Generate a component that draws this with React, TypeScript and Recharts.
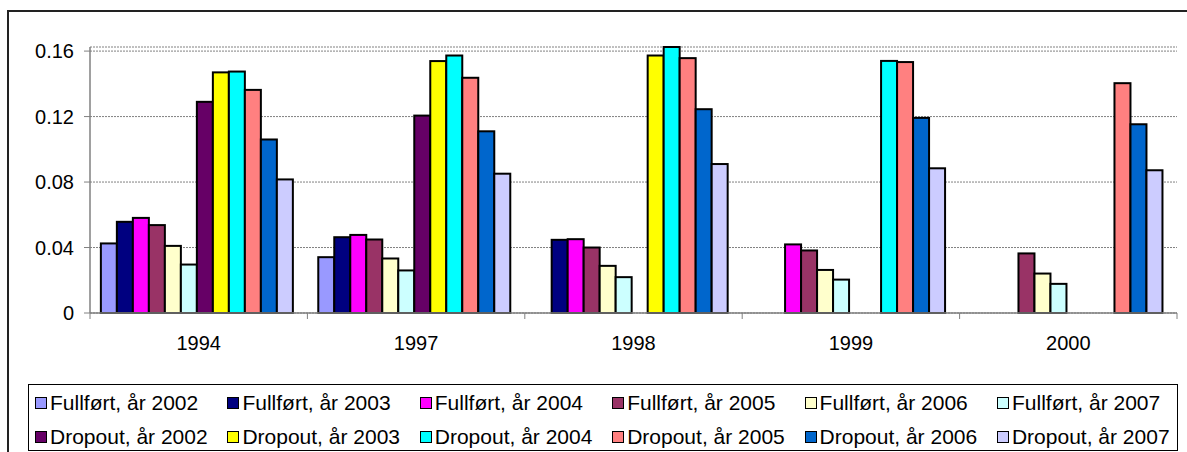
import React from 'react';
import { BarChart, Bar, XAxis, YAxis, CartesianGrid, Legend } from 'recharts';

const categories = ['1994', '1997', '1998', '1999', '2000'];

const seriesNames = [
  'Fullført, år 2002', 'Fullført, år 2003', 'Fullført, år 2004',
  'Fullført, år 2005', 'Fullført, år 2006', 'Fullført, år 2007',
  'Dropout, år 2002', 'Dropout, år 2003', 'Dropout, år 2004',
  'Dropout, år 2005', 'Dropout, år 2006', 'Dropout, år 2007',
];

const seriesColors = [
  '#9999FF', '#000080', '#FF00FF', '#993366', '#FFFFCC', '#CCFFFF',
  '#660066', '#FFFF00', '#00FFFF', '#FF8080', '#0066CC', '#CCCCFF',
];

const fullfort2002 = [0.0425, 0.0341, null, null, null];
const fullfort2003 = [0.0557, 0.0463, 0.0447, null, null];
const fullfort2004 = [0.0581, 0.0477, 0.0451, 0.0419, null];
const fullfort2005 = [0.0537, 0.0449, 0.040, 0.0382, 0.0364];
const fullfort2006 = [0.041, 0.0333, 0.0288, 0.0263, 0.0241];
const fullfort2007 = [0.0296, 0.026, 0.0219, 0.0204, 0.0178];
const dropout2002 = [0.129, 0.1206, null, null, null];
const dropout2003 = [0.147, 0.1539, 0.1573, null, null];
const dropout2004 = [0.1475, 0.1573, 0.1625, 0.154, null];
const dropout2005 = [0.1363, 0.1437, 0.1557, 0.1533, 0.1404];
const dropout2006 = [0.106, 0.111, 0.1245, 0.1192, 0.1153];
const dropout2007 = [0.0816, 0.0851, 0.091, 0.0884, 0.0872];

const seriesValues = [
  fullfort2002, fullfort2003, fullfort2004, fullfort2005, fullfort2006, fullfort2007,
  dropout2002, dropout2003, dropout2004, dropout2005, dropout2006, dropout2007,
];

const yTicks = [0, 0.04, 0.08, 0.12, 0.16];

const data = categories.map((c, i) => {
  const row: any = { year: c };
  seriesValues.forEach((vals, s) => {
    row['s' + s] = vals[i];
  });
  return row;
});

const FONT = '"Liberation Sans", Arial, sans-serif';
const AXIS_COLOR = '#808080';

const XTick = (props: any) => {
  const { x, y, payload, index, visibleTicksCount, width } = props;
  const count = visibleTicksCount || categories.length;
  const half = width / count / 2;
  const axisY = y - 23;
  return (
    <g>
      <line x1={x - half} x2={x - half} y1={axisY} y2={axisY + 6} stroke={AXIS_COLOR} strokeWidth={1} />
      {index === count - 1 && (
        <line x1={x + half} x2={x + half} y1={axisY} y2={axisY + 6} stroke={AXIS_COLOR} strokeWidth={1} />
      )}
      <text x={x} y={y} dy="0.71em" textAnchor="middle" fill="#000" fontSize={20} fontFamily={FONT}>
        {payload.value}
      </text>
    </g>
  );
};

const BarShape = (props: any) => {
  const { x, y, width, height, fill } = props;
  if (!height || height <= 0 || !width) return null;
  return <rect x={x} y={y} width={width} height={height} fill={fill} stroke="#000" strokeWidth={2} />;
};

const renderLegend = (props: any) => {
  const payload = [...(props.payload || [])].sort(
    (a: any, b: any) => seriesNames.indexOf(a.value) - seriesNames.indexOf(b.value)
  );
  return (
    <div
      style={{
        boxSizing: 'border-box',
        width: 1150,
        height: 67,
        border: '1px solid #000',
        background: '#fff',
        padding: '1px 0 0 6px',
        display: 'grid',
        gridTemplateColumns: 'repeat(6, 192.4px)',
        gridAutoRows: '34px',
        fontFamily: FONT,
        fontSize: 21,
        color: '#000',
      }}
    >
      {payload.map((e: any, i: number) => (
        <div key={i} style={{ display: 'flex', alignItems: 'center', whiteSpace: 'nowrap' }}>
          <span
            style={{
              display: 'inline-block',
              boxSizing: 'border-box',
              width: 12,
              height: 12,
              background: e.color,
              border: '1.5px solid #000',
              marginRight: 3,
            }}
          />
          <span>{e.value}</span>
        </div>
      ))}
    </div>
  );
};

export default function App() {
  return (
    <div
      style={{
        position: 'fixed',
        left: 0,
        top: 0,
        width: 1187,
        height: 452,
        overflow: 'hidden',
        background: '#fff',
        fontFamily: FONT,
      }}
    >
      <div
        style={{
          position: 'absolute',
          left: 7,
          top: 10,
          width: 1300,
          height: 600,
          borderLeft: '2px solid #222',
          borderTop: '2px solid #222',
        }}
      />
      <div style={{ position: 'absolute', left: 0, top: 0 }}>
        <BarChart
          width={1187}
          height={452}
          data={data}
          margin={{ top: 47, right: 10, bottom: 99, left: 0 }}
          barCategoryGap="5%"
          barGap={0}
        >
          <CartesianGrid horizontal vertical={false} stroke="#808080" strokeDasharray="2 1" />
          <XAxis
            dataKey="year"
            height={40}
            axisLine={{ stroke: AXIS_COLOR, strokeWidth: 1.5 }}
            tickLine={false}
            tickSize={6}
            tickMargin={17}
            interval={0}
            tick={<XTick />}
          />
          <YAxis
            width={90}
            domain={[0, 'dataMax']}
            ticks={yTicks}
            interval={0}
            axisLine={{ stroke: AXIS_COLOR, strokeWidth: 1.5 }}
            tickLine={{ stroke: AXIS_COLOR }}
            tickSize={6}
            tickMargin={10}
            tick={{ fill: '#000', fontSize: 20, fontFamily: FONT }}
          />
          <Legend
            layout="horizontal"
            verticalAlign="middle"
            align="center"
            itemSorter={null as any}
            content={renderLegend}
            wrapperStyle={{ left: 28, top: 384, width: 1150, height: 67 }}
          />
          {seriesNames.map((name, i) => (
            <Bar
              key={name}
              dataKey={'s' + i}
              name={name}
              fill={seriesColors[i]}
              stroke="#000"
              strokeWidth={2}
              shape={<BarShape />}
              isAnimationActive={false}
            />
          ))}
        </BarChart>
      </div>
    </div>
  );
}
